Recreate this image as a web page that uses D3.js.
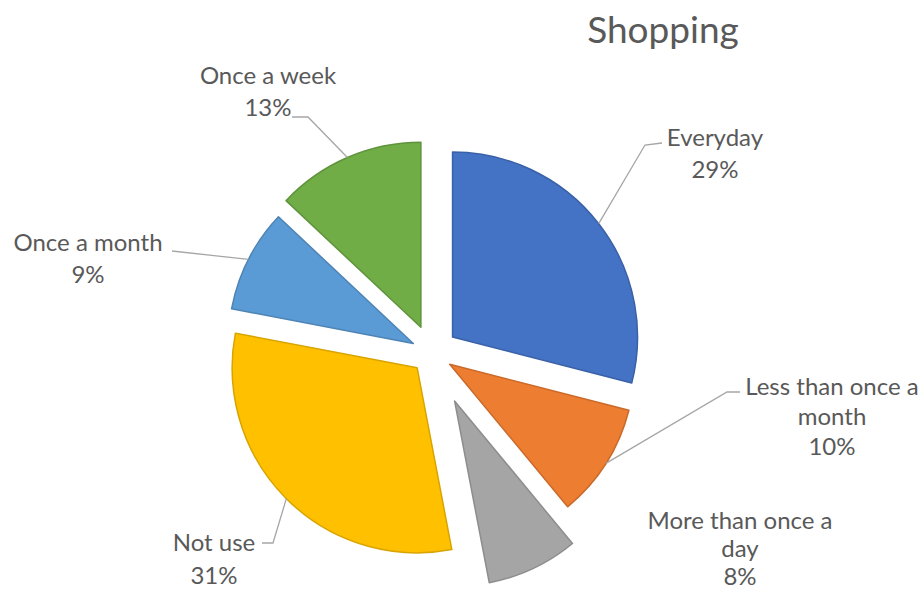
<!DOCTYPE html>
<html>
<head>
<meta charset="utf-8">
<script src="https://cdn.jsdelivr.net/npm/d3@7"></script>
<style>
  html, body { margin: 0; padding: 0; background: #ffffff; }
  svg { display: block; }
  text { font-family: Lato, "Open Sans", sans-serif; fill: #595959; }
</style>
</head>
<body>
<svg id="chart" width="923" height="594"></svg>
<script>
// Survey answers: how often people shop online
const categories = ["Everyday", "Less than once a month", "More than once a day", "Not use", "Once a month", "Once a week"];
const values = [29, 10, 8, 31, 9, 13];
const percentLabels = ["29%", "10%", "8%", "31%", "9%", "13%"];
const labelLines = [["Everyday"], ["Less than once a", "month"], ["More than once a", "day"], ["Not use"], ["Once a month"], ["Once a week"]];
const colors = ["#4472C4", "#ED7D31", "#A5A5A5", "#FFC000", "#5B9BD5", "#70AD47"];
const title = "Shopping";

// Layout settings
const width = 923, height = 594;
const cx = 432, cy = 353, radius = 185;
const explode = [26, 21, 53, 21, 21, 28];           // per-slice pull-out distance
const labelCenter = [[715, 138], [832, 387], [740, 521], [214, 543], [88, 243], [268, 76]];
const lineHeight = [32, 30, 28, 33, 32, 32];
// leader line bend/end points (null = no leader)
const leaderPts = [
  [[645, 145], [662, 143]],
  [[727, 392], [740, 392]],
  null,
  [[273, 543], [262, 543]],
  [[172, 251]],
  [[308, 117], [292, 117]]
];

const svg = d3.select("#chart");

const pie = d3.pie().sort(null).value(d => d).startAngle(0).endAngle(2 * Math.PI);
const arcs = pie(values);
const arcGen = d3.arc().innerRadius(0).outerRadius(radius);

function offset(a, dist) {
  const mid = (a.startAngle + a.endAngle) / 2;
  return [Math.sin(mid) * dist, -Math.cos(mid) * dist];
}

const g = svg.append("g").attr("transform", `translate(${cx},${cy})`);

g.selectAll("path.slice")
  .data(arcs)
  .join("path")
  .attr("class", "slice")
  .attr("transform", (a, i) => { const o = offset(a, explode[i]); return `translate(${o[0]},${o[1]})`; })
  .attr("d", arcGen)
  .attr("fill", (a, i) => colors[i])
  .attr("stroke", (a, i) => d3.color(colors[i]).darker(0.45))
  .attr("stroke-width", 1.5)
  .attr("stroke-linejoin", "round");

// Leader lines from the outer edge of each slice to its label
arcs.forEach((a, i) => {
  if (!leaderPts[i]) return;
  const o = offset(a, explode[i]);
  const e = offset(a, radius);
  const start = [cx + o[0] + e[0], cy + o[1] + e[1]];
  const pts = [start].concat(leaderPts[i]);
  svg.append("path")
    .attr("d", d3.line()(pts))
    .attr("fill", "none")
    .attr("stroke", "#A6A6A6")
    .attr("stroke-width", 1.3);
});

// Data labels: category name followed by percentage
arcs.forEach((a, i) => {
  const lines = labelLines[i].concat([percentLabels[i]]);
  const t = svg.append("text")
    .attr("text-anchor", "middle")
    .attr("font-size", 24);
  lines.forEach((ln, k) => {
    t.append("tspan")
      .attr("x", labelCenter[i][0])
      .attr("y", labelCenter[i][1] + k * lineHeight[i])
      .attr("dy", "0.35em")
      .text(ln);
  });
});

svg.append("text")
  .attr("x", 663)
  .attr("y", 30)
  .attr("dy", "0.35em")
  .attr("text-anchor", "middle")
  .attr("font-size", 37)
  .text(title);
</script>
</body>
</html>
